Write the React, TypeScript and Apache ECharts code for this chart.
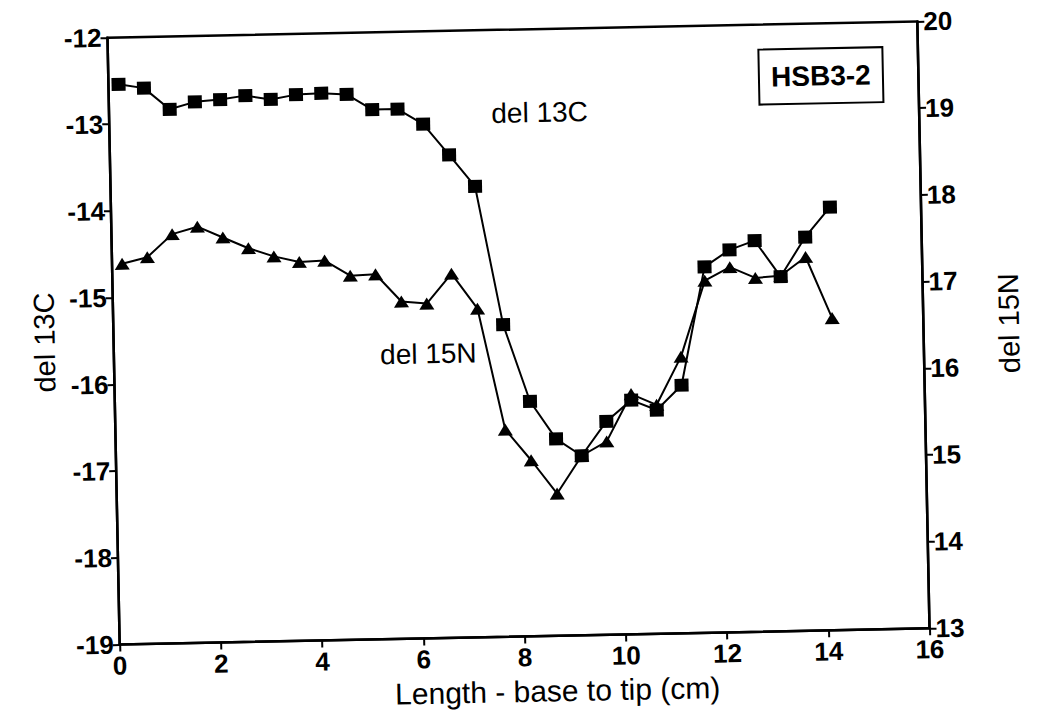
import React, { useEffect, useRef } from "react";
import * as echarts from "echarts";

// Distance along the hair, base to tip (cm)
const lengthCm = [
  0.2, 0.7, 1.2, 1.7, 2.2, 2.7, 3.2, 3.7, 4.2, 4.7, 5.2, 5.7, 6.2, 6.7, 7.2,
  7.7, 8.2, 8.7, 9.2, 9.7, 10.2, 10.7, 11.2, 11.7, 12.2, 12.7, 13.2, 13.7, 14.2,
];

// Carbon isotope ratio (left axis)
const del13C = [
  -12.54, -12.59, -12.84, -12.76, -12.74, -12.7, -12.75, -12.7, -12.69, -12.71,
  -12.89, -12.89, -13.07, -13.43, -13.8, -15.4, -16.29, -16.73, -16.93, -16.54,
  -16.3, -16.42, -16.14, -14.78, -14.59, -14.49, -14.91, -14.46, -14.12,
];

// Nitrogen isotope ratio (right axis)
const del15N = [
  17.39, 17.46, 17.72, 17.8, 17.67, 17.54, 17.44, 17.37, 17.38, 17.2, 17.21,
  16.89, 16.86, 17.2, 16.79, 15.39, 15.03, 14.64, 15.07, 15.23, 15.77, 15.64,
  16.19, 17.06, 17.21, 17.08, 17.1, 17.31, 16.6,
];

const xTicks = { min: 0, max: 16, step: 2 };
const leftTicks = { min: -19, max: -12, step: 1 };
const rightTicks = { min: 13, max: 20, step: 1 };

const sampleId = "HSB3-2";

const FONT = "'Liberation Sans', Arial, Helvetica, sans-serif";

export default function App() {
  const ref = useRef<HTMLDivElement>(null);

  useEffect(() => {
    if (!ref.current) return;
    const chart = echarts.init(ref.current, undefined, { renderer: "svg" });

    const axisLine = { show: true, lineStyle: { color: "#000", width: 2.5 } };
    const axisTick = {
      show: true,
      inside: false,
      length: 7,
      lineStyle: { color: "#000", width: 2 },
    };
    const tickLabel = {
      color: "#000",
      fontFamily: FONT,
      fontSize: 26,
      fontWeight: "bold" as const,
    };
    const nameStyle = {
      color: "#000",
      fontFamily: FONT,
      fontSize: 29,
    };

    chart.setOption({
      animation: false,
      backgroundColor: "#fff",
      grid: {
        left: 113.5,
        top: 29.5,
        width: 810,
        height: 607,
        show: true,
        borderColor: "#000",
        borderWidth: 2.5,
        containLabel: false,
      },
      xAxis: {
        type: "value",
        min: xTicks.min,
        max: xTicks.max,
        interval: xTicks.step,
        name: "Length - base to tip (cm)",
        nameLocation: "middle",
        nameGap: 40,
        nameTextStyle: { ...nameStyle, fontSize: 30, padding: [0, 0, 0, 64] },
        axisLine,
        axisTick,
        axisLabel: { ...tickLabel, margin: 8 },
        splitLine: { show: false },
      },
      yAxis: [
        {
          type: "value",
          position: "left",
          min: leftTicks.min,
          max: leftTicks.max,
          interval: leftTicks.step,
          name: "del 13C",
          nameLocation: "middle",
          nameGap: 48,
          nameTextStyle: nameStyle,
          axisLine,
          axisTick,
          axisLabel: { ...tickLabel, margin: 6 },
          splitLine: { show: false },
        },
        {
          type: "value",
          position: "right",
          min: rightTicks.min,
          max: rightTicks.max,
          interval: rightTicks.step,
          name: "del 15N",
          nameLocation: "middle",
          nameGap: 71,
          nameTextStyle: nameStyle,
          axisLine,
          axisTick,
          axisLabel: { ...tickLabel, margin: 6 },
          splitLine: { show: false },
        },
      ],
      series: [
        {
          name: "del 13C",
          type: "line",
          yAxisIndex: 0,
          data: lengthCm.map((x, i) => [x, del13C[i]]),
          symbol: "rect",
          symbolSize: [14, 13],
          lineStyle: { color: "#000", width: 2 },
          itemStyle: { color: "#000" },
          z: 3,
        },
        {
          name: "del 15N",
          type: "line",
          yAxisIndex: 1,
          data: lengthCm.map((x, i) => [x, del15N[i]]),
          symbol: "triangle",
          symbolSize: [15, 12],
          lineStyle: { color: "#000", width: 2 },
          itemStyle: { color: "#000" },
          z: 2,
        },
      ],
      graphic: [
        {
          type: "text",
          x: 544,
          y: 113,
          style: {
            text: "del 13C",
            fill: "#000",
            font: `28px ${FONT}`,
            align: "center",
            verticalAlign: "middle",
          },
        },
        {
          type: "text",
          x: 428,
          y: 352,
          style: {
            text: "del 15N",
            fill: "#000",
            font: `28px ${FONT}`,
            align: "center",
            verticalAlign: "middle",
          },
        },
        {
          type: "rect",
          shape: { x: 764, y: 54.5, width: 124, height: 55 },
          style: { fill: "#fff", stroke: "#000", lineWidth: 2 },
          z: 10,
        },
        {
          type: "text",
          x: 826,
          y: 82,
          style: {
            text: sampleId,
            fill: "#000",
            font: `bold 28px ${FONT}`,
            align: "center",
            verticalAlign: "middle",
          },
          z: 11,
        },
      ],
    });

    return () => chart.dispose();
  }, []);

  return (
    <div
      style={{
        position: "absolute",
        left: 0,
        top: 0,
        width: 1041,
        height: 717,
        overflow: "hidden",
        background: "#fff",
      }}
    >
      <div
        ref={ref}
        style={{
          position: "absolute",
          left: 0,
          top: 0,
          width: 1041,
          height: 717,
          transform: "rotate(-1.15deg)",
          transformOrigin: "518.5px 333px",
        }}
      />
    </div>
  );
}
